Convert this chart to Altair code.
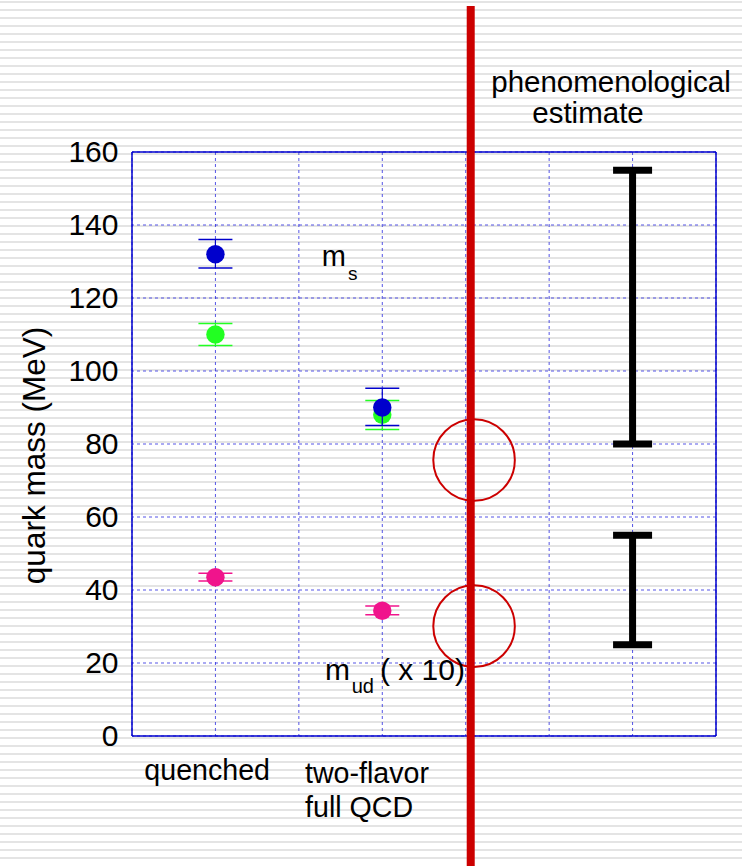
import altair as alt
import numpy as np
import pandas as pd

# ---- data -------------------------------------------------------------
# x positions: 1 = quenched, 3 = two-flavor full QCD, 6 = phenomenological
ms_x = [1, 3]
ms_blue = [132.0, 90.0]
ms_blue_lo = [128.2, 85.1]
ms_blue_hi = [136.0, 95.3]

ms_green = [110.0, 88.0]
ms_green_lo = [107.0, 84.0]
ms_green_hi = [113.0, 91.9]

mud_x10 = [43.5, 34.3]
mud_lo = [42.5, 33.2]
mud_hi = [44.6, 35.6]

pheno_x = [6, 6]
pheno_lo = [80.0, 25.0]
pheno_hi = [155.0, 55.0]

circle_x = [4.1, 4.1]
circle_y = [75.6, 30.1]

divider_x = 4.06
y_ticks = [0, 20, 40, 60, 80, 100, 120, 140, 160]
x_grid = [0, 1, 2, 3, 4, 5, 6, 7]

W, H = 584, 584
PAD = {"left": 132, "top": 152, "right": 26, "bottom": 130}
BLUE = "#0000cc"
GRID = "#2a2ae0"
GREEN = "#22ff22"
PINK = "#f0148c"
RED = "#cc0000"
FONT = "Liberation Sans"

xs = alt.Scale(domain=[0, 7], nice=False, zero=False)
ys = alt.Scale(domain=[0, 160], nice=False, zero=False)

# ---- background texture (thin grey horizontal stripes) ----------------
stripe_rows = pd.DataFrame({"py": np.arange(2 - PAD["top"], H + PAD["bottom"], 8)})
stripes = alt.Chart(stripe_rows).mark_rule(
    color="#e4e4e4", strokeWidth=2, clip=False
).encode(
    y=alt.Y("py:Q", scale=None, axis=None),
    x=alt.value(-PAD["left"]),
    x2=alt.value(W + PAD["right"]),
)

# ---- axes (labels only) ---------------------------------------------------
grid_df = pd.DataFrame({"gx": [0], "gy": [0]})
frame = alt.Chart(grid_df).mark_point(opacity=0).encode(
    x=alt.X("gx:Q", scale=xs, axis=None),
    y=alt.Y(
        "gy:Q", scale=ys,
        axis=alt.Axis(
            values=y_ticks, ticks=False, domain=False, grid=False,
            labelPadding=14, labelFontSize=30, labelFont=FONT, labelColor="black",
            title="quark mass (MeV)", titleFont=FONT, titleFontSize=31.5,
            titleFontWeight="normal", titleColor="black", titlePadding=16,
            titleY=303, zindex=1,
        ),
    ),
)

# dotted grid
vgrid = alt.Chart(pd.DataFrame({"g": x_grid})).mark_rule(
    color=GRID, strokeWidth=1, strokeDash=[3, 3], opacity=0.8
).encode(x=alt.X("g:Q", scale=xs))
hgrid = alt.Chart(pd.DataFrame({"g": y_ticks})).mark_rule(
    color=GRID, strokeWidth=1, strokeDash=[3, 3], opacity=0.8
).encode(y=alt.Y("g:Q", scale=ys))

# solid frame
frame_v = alt.Chart(pd.DataFrame({"g": [0, 7]})).mark_rule(color=BLUE, strokeWidth=1.5).encode(
    x=alt.X("g:Q", scale=xs)
)
frame_h = alt.Chart(pd.DataFrame({"g": [0, 160]})).mark_rule(color=BLUE, strokeWidth=1.5).encode(
    y=alt.Y("g:Q", scale=ys)
)

# ---- lattice results ---------------------------------------------------
def series(vals, lo, hi, color):
    df = pd.DataFrame({"x": ms_x, "v": vals, "lo": lo, "hi": hi})
    base = alt.Chart(df)
    bar = base.mark_rule(color=color, strokeWidth=1.2).encode(
        x=alt.X("x:Q", scale=xs), y=alt.Y("lo:Q", scale=ys), y2="hi:Q"
    )
    cap_lo = base.mark_tick(orient="horizontal", size=34, thickness=1.5, color=color, opacity=1).encode(
        x=alt.X("x:Q", scale=xs), y=alt.Y("lo:Q", scale=ys)
    )
    cap_hi = base.mark_tick(orient="horizontal", size=34, thickness=1.5, color=color, opacity=1).encode(
        x=alt.X("x:Q", scale=xs), y=alt.Y("hi:Q", scale=ys)
    )
    dot = base.mark_circle(size=340, color=color, opacity=1).encode(
        x=alt.X("x:Q", scale=xs), y=alt.Y("v:Q", scale=ys)
    )
    return [bar, cap_lo, cap_hi, dot]

green_layers = series(ms_green, ms_green_lo, ms_green_hi, GREEN)
blue_layers = series(ms_blue, ms_blue_lo, ms_blue_hi, BLUE)
pink_layers = series(mud_x10, mud_lo, mud_hi, PINK)

# ---- phenomenological ranges -------------------------------------------
ph = pd.DataFrame({"x": pheno_x, "lo": pheno_lo, "hi": pheno_hi})
ph_bar = alt.Chart(ph).mark_rule(color="black", strokeWidth=7).encode(
    x=alt.X("x:Q", scale=xs), y=alt.Y("lo:Q", scale=ys), y2="hi:Q"
)
ph_lo = alt.Chart(ph).mark_tick(orient="horizontal", size=39, thickness=7, color="black", opacity=1).encode(
    x=alt.X("x:Q", scale=xs), y=alt.Y("lo:Q", scale=ys)
)
ph_hi = alt.Chart(ph).mark_tick(orient="horizontal", size=39, thickness=7, color="black", opacity=1).encode(
    x=alt.X("x:Q", scale=xs), y=alt.Y("hi:Q", scale=ys)
)

# ---- divider and highlight circles -------------------------------------
divider = alt.Chart(grid_df).mark_rule(color=RED, strokeWidth=8, clip=False).encode(
    x=alt.datum(divider_x, scale=xs),
    y=alt.datum(200, scale=ys),
    y2=alt.datum(-35.6),
)
circ = pd.DataFrame({"x": circle_x, "y": circle_y})
circles = alt.Chart(circ).mark_point(
    shape="circle", size=6650, filled=False, color=RED, strokeWidth=2, opacity=1
).encode(x=alt.X("x:Q", scale=xs), y=alt.Y("y:Q", scale=ys))

# ---- annotations ---------------------------------------------------------
def label(text, x, y, size, align="left"):
    return alt.Chart(grid_df).mark_text(
        text=text, font=FONT, fontSize=size, color="black", align=align,
        baseline="alphabetic", clip=False,
    ).encode(x=alt.datum(x, scale=xs), y=alt.datum(y, scale=ys))

texts = [
    label("m", 2.274, 128.8, 29),
    label("s", 2.589, 124.9, 19),
    label("m", 2.313, 15.3, 30),
    label("ud", 2.633, 11.7, 20),
    label("( x 10)", 2.972, 15.3, 30),
    label("quenched", 0.148, -12.05, 28.6),
    label("two-flavor", 2.074, -12.9, 28.6),
    label("full QCD", 2.074, -22.2, 28.6),
    label("phenomenological", 5.741, 176.4, 29.5, "center"),
    label("estimate", 5.466, 167.9, 29.5, "center"),
]

chart = alt.layer(
    stripes, frame, vgrid, hgrid, frame_v, frame_h,
    *green_layers, *blue_layers, *pink_layers,
    ph_bar, ph_lo, ph_hi, circles, *texts, divider,
).properties(
    width=W, height=H,
    autosize=alt.AutoSizeParams(type="none"),
    padding=PAD,
    background="white",
).configure_view(strokeWidth=0)

chart.save("out.html", embed_options={"renderer": "svg", "actions": False})
